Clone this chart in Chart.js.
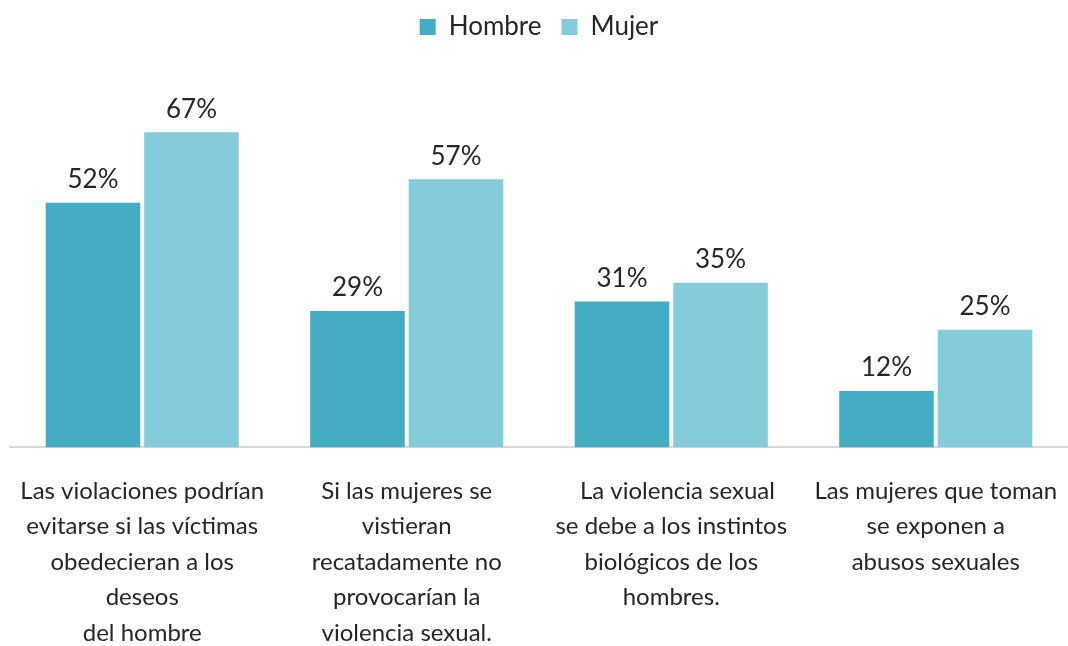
<!DOCTYPE html>
<html>
<head>
<meta charset="utf-8">
<script src="https://cdn.jsdelivr.net/npm/chart.js@4"></script>
<style>
    html, body { margin: 0; padding: 0; background: #ffffff; }
    #wrap { width: 1068px; height: 646px; }
</style>
</head>
<body>
<div id="wrap"><canvas id="chart"></canvas></div>
<script>
// categories (multi-line labels as drawn under the axis)
const categories = [
    ["Las violaciones podrían", "evitarse si las víctimas", "obedecieran a los", "deseos", "del hombre"],
    ["Si las mujeres se", "vistieran", "recatadamente no", "provocarían la", "violencia sexual."],
    ["  La violencia sexual", "se debe a los instintos", "biológicos de los", "hombres."],
    ["Las mujeres que toman", "se exponen a", "abusos sexuales"],
];
const hombreValues = [52, 29, 31, 12];
const mujerValues = [67, 57, 35, 25];
const seriesNames = ["Hombre", "Mujer"];

const FONT = "Lato, 'Open Sans', sans-serif";
const TEXT_COLOR = "#262626";

// draws the value above each bar
const valueLabels = {
    id: "valueLabels",
    afterDatasetsDraw(chart) {
        const ctx = chart.ctx;
        ctx.save();
        ctx.font = `26px ${FONT}`;
        ctx.fillStyle = TEXT_COLOR;
        ctx.textAlign = "center";
        ctx.textBaseline = "bottom";
        chart.data.datasets.forEach((ds, i) => {
            const meta = chart.getDatasetMeta(i);
            meta.data.forEach((bar, j) => {
                ctx.fillText(`${ds.data[j]}%`, bar.x, bar.y - 10);
            });
        });
        ctx.restore();
    },
};

new Chart(document.getElementById("chart"), {
    type: "bar",
    data: {
        labels: categories,
        datasets: [
            {
                label: seriesNames[0],
                data: hombreValues,
                backgroundColor: "#44adc4",
            },
            {
                label: seriesNames[1],
                data: mujerValues,
                backgroundColor: "#84ccd9",
            },
        ],
    },
    options: {
        responsive: true,
        maintainAspectRatio: false,
        animation: false,
        categoryPercentage: 0.745,
        barPercentage: 0.96,
        layout: {
            padding: { left: 10, right: 0, top: -6, bottom: -31 },
        },
        plugins: {
            legend: {
                position: "top",
                labels: {
                    boxWidth: 16,
                    boxHeight: 16,
                    padding: 20,
                    color: TEXT_COLOR,
                    font: { family: FONT, size: 26 },
                },
            },
            tooltip: { enabled: false },
        },
        scales: {
            x: {
                grid: { display: false, drawTicks: false },
                border: { color: "#d9d9d9", width: 2 },
                ticks: {
                    color: TEXT_COLOR,
                    font: { family: FONT, size: 24, lineHeight: 1.48 },
                    padding: 26,
                    maxRotation: 0,
                    autoSkip: false,
                },
                afterFit(scale) {
                    // let the axis run edge to edge like the original
                    scale.paddingLeft = 0;
                    scale.paddingRight = 0;
                },
            },
            y: {
                display: false,
                min: 0,
                max: 84.5,
            },
        },
    },
    plugins: [valueLabels],
});
</script>
</body>
</html>
